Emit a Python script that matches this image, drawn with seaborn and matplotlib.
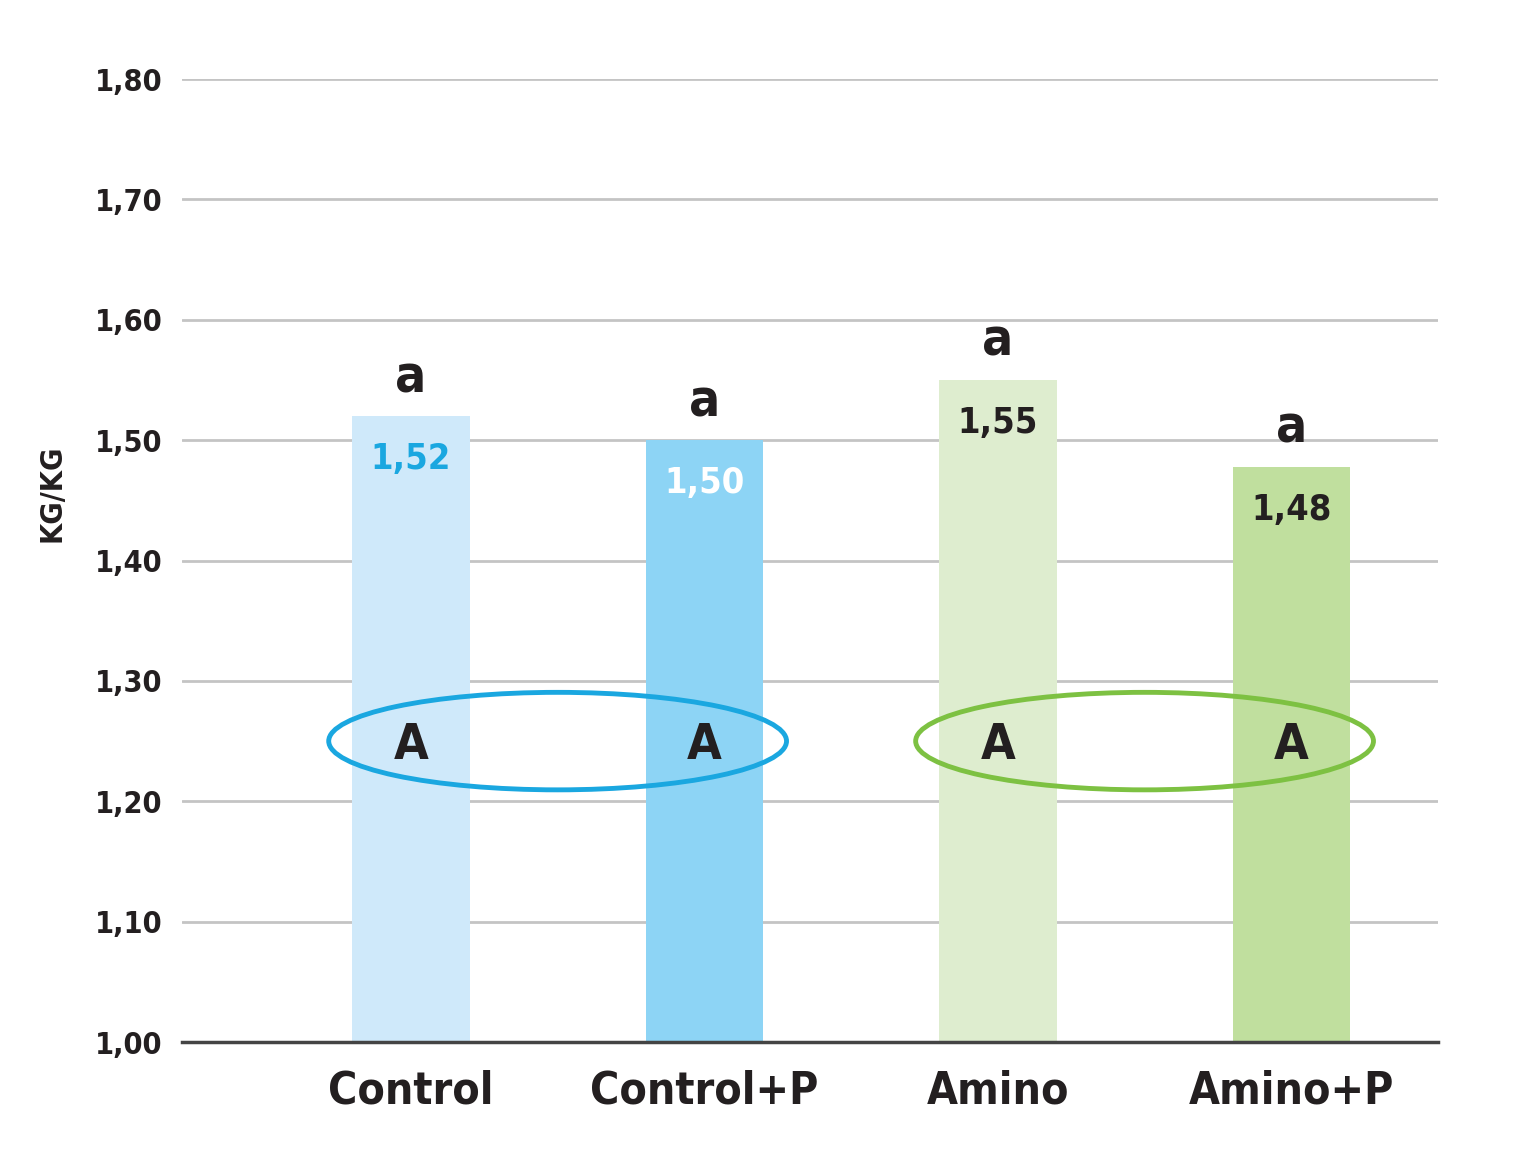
import matplotlib
matplotlib.use("Agg")
import matplotlib.pyplot as plt
from matplotlib.patches import Ellipse
from matplotlib.ticker import FuncFormatter
import seaborn as sns

categories = ["Control", "Control+P", "Amino", "Amino+P"]
values = [1.52, 1.50, 1.55, 1.478]
value_labels = ["1,52", "1,50", "1,55", "1,48"]
letters_top = ["a", "a", "a", "a"]
letters_group = ["A", "A", "A", "A"]
bar_colors = ["#cfe9fa", "#8dd4f5", "#deedcf", "#c0df9e"]
value_colors = ["#1aa7e0", "#ffffff", "#231f20", "#231f20"]
groups = [(0, 1, "#1aa7e0"), (2, 3, "#7dc142")]

sns.set_style("white")
plt.rcParams["font.family"] = ["DejaVu Sans"]
plt.rcParams["font.stretch"] = "condensed"
plt.rcParams["font.weight"] = "bold"
dark = "#231f20"

fig = plt.figure(figsize=(15.19, 11.49), dpi=100)
ax = fig.add_axes([0.1198, 0.0931, 0.8269, 0.8381])

sns.barplot(x=categories, y=values, hue=categories, palette=bar_colors,
            legend=False, width=0.4, saturation=1, linewidth=0, ax=ax, zorder=2)

ax.set_ylim(1.0, 1.8)
ax.set_xlim(-0.78, 3.5)
ax.set_yticks([1.0 + 0.1 * i for i in range(9)])
ax.yaxis.set_major_formatter(FuncFormatter(lambda v, _: f"{v:.2f}".replace(".", ",")))
ax.grid(axis="y", color="#c4c4c4", linewidth=2, zorder=0)
ax.set_axisbelow(True)
for s in ["top", "right", "left"]:
    ax.spines[s].set_visible(False)
ax.spines["bottom"].set_color("#444444")
ax.spines["bottom"].set_linewidth(2.5)
ax.spines["bottom"].set_zorder(3)
ax.tick_params(axis="y", length=0, pad=14, labelsize=22, labelcolor=dark)
ax.tick_params(axis="x", length=0, pad=20, labelsize=32, labelcolor=dark)
ax.set_xlabel("")
ax.set_ylabel("KG/KG", fontsize=22, color=dark, fontweight="bold")
ax.yaxis.set_label_coords(-0.092, 0.57)

for i, v in enumerate(values):
    ax.text(i, v - 0.044, value_labels[i], ha="center", va="baseline",
            fontsize=26, color=value_colors[i], fontweight="bold", zorder=4)
    ax.text(i, v + 0.02, letters_top[i], ha="center", va="baseline",
            fontsize=37, color=dark, fontweight="bold", zorder=4)
    ax.text(i, 1.235, letters_group[i], ha="center", va="baseline",
            fontsize=36, color=dark, fontweight="bold", zorder=4)

for a, b, col in groups:
    ax.add_patch(Ellipse(((a + b) / 2, 1.25), width=1.56, height=0.081,
                         fill=False, edgecolor=col, linewidth=3.5, zorder=3))

fig.savefig("out.png", dpi=100)
